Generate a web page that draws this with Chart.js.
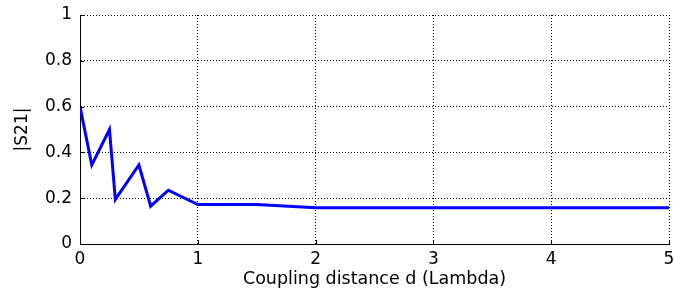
<!DOCTYPE html>
<html>
<head>
<meta charset="utf-8">
<script src="https://cdn.jsdelivr.net/npm/chart.js@4/dist/chart.umd.min.js"></script>
<style>
  html, body { margin: 0; padding: 0; background: #fff; }
  #wrap { width: 674px; height: 300px; position: relative; }
</style>
</head>
<body>
<div id="wrap"><canvas id="c" width="674" height="300"></canvas></div>
<script>
const distances = [0, 0.1, 0.25, 0.3, 0.5, 0.6, 0.75, 1, 1.5, 2, 3, 4, 5];
const s21 = [0.6, 0.345, 0.5, 0.195, 0.345, 0.165, 0.235, 0.172, 0.172, 0.158, 0.158, 0.158, 0.158];
const xTicks = [0, 1, 2, 3, 4, 5];
const yTicks = [0, 0.2, 0.4, 0.6, 0.8, 1];
const xTitle = 'Coupling distance d (Lambda)';
const yTitle = '|S21|';

const points = distances.map((d, i) => ({ x: d, y: s21[i] }));
const FONT = 'DejaVu Sans';

const inwardTicks = {
  id: 'inwardTicks',
  afterDraw(chart) {
    const { ctx, chartArea, scales } = chart;
    ctx.save();
    ctx.strokeStyle = '#000';
    ctx.lineWidth = 1;
    ctx.beginPath();
    xTicks.forEach(v => {
      const px = Math.round(scales.x.getPixelForValue(v)) + 0.5;
      ctx.moveTo(px, chartArea.bottom);
      ctx.lineTo(px, chartArea.bottom - 4);
    });
    yTicks.forEach(v => {
      const py = Math.round(scales.y.getPixelForValue(v)) + 0.5;
      ctx.moveTo(chartArea.left, py);
      ctx.lineTo(chartArea.left + 4, py);
    });
    ctx.stroke();
    ctx.restore();
  }
};

new Chart(document.getElementById('c'), {
  type: 'line',
  data: {
    datasets: [{
      data: points,
      borderColor: '#0000ff',
      borderWidth: 3,
      pointRadius: 0,
      tension: 0,
      fill: false
    }]
  },
  options: {
    responsive: false,
    animation: false,
    devicePixelRatio: 1,
    layout: { padding: { left: 0, right: 5, top: 15, bottom: 0 } },
    plugins: { legend: { display: false }, tooltip: { enabled: false } },
    scales: {
      x: {
        type: 'linear',
        min: 0, max: 5,
        afterBuildTicks: s => { s.ticks = xTicks.map(v => ({ value: v })); },
        afterFit: s => { s.height = 56; s.paddingLeft = 0; s.paddingRight = 0; },
        ticks: {
          color: '#000',
          font: { family: FONT, size: 17 },
          padding: 5,
          maxRotation: 0,
          callback: v => String(v)
        },
        grid: { color: '#000', lineWidth: 1, drawTicks: false },
        border: { display: true, color: '#000', width: 1, dash: [1, 2] },
        title: {
          display: true,
          text: xTitle,
          color: '#000',
          font: { family: FONT, size: 17.5 },
          padding: { top: 0, bottom: 10 }
        }
      },
      y: {
        type: 'linear',
        min: 0, max: 1,
        afterBuildTicks: s => { s.ticks = yTicks.map(v => ({ value: v })); },
        afterFit: s => { s.width = 80; s.paddingTop = 0; s.paddingBottom = 0; },
        ticks: {
          color: '#000',
          font: { family: FONT, size: 17 },
          padding: 8,
          callback: v => String(Math.round(v * 10) / 10)
        },
        grid: { color: '#000', lineWidth: 1, drawTicks: false },
        border: { display: true, color: '#000', width: 1, dash: [1, 2] },
        title: {
          display: true,
          text: yTitle,
          color: '#000',
          font: { family: FONT, size: 17 },
          padding: { top: 12, bottom: 0 }
        }
      }
    }
  },
  plugins: [inwardTicks]
});
</script>
</body>
</html>
